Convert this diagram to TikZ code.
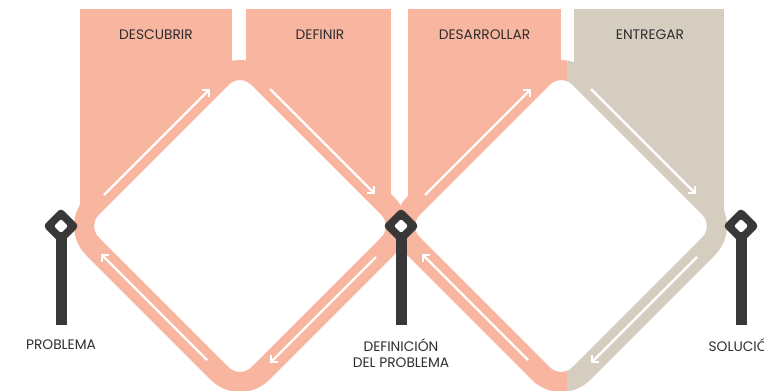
\documentclass[tikz,border=0pt]{standalone}
\usepackage{fontspec}
\setmainfont{Poppins}
\usetikzlibrary{arrows.meta}
\definecolor{salmon}{HTML}{F8B5A0}
\definecolor{beige}{HTML}{D6CDC1}
\definecolor{pinc}{HTML}{383838}
\definecolor{txtc}{HTML}{2E2E2E}
% rounded diamond: centre x, centre y, half diagonal, corner radius
\newcommand\rdm[4]{[rounded corners=#4pt] ({#1-#3/2},{#2-#3/2}) -- (#1,{#2-#3}) -- ({#1+#3},#2) -- (#1,{#2+#3}) -- ({#1-#3},#2) -- cycle}
\begin{document}
\begin{tikzpicture}[x=1pt,y=-1pt,
  lbl/.style={font=\fontsize{13.8}{16}\selectfont, text=txtc, inner sep=0pt},
  flow/.style={draw=white, line width=2.2pt, -{Straight Barb[length=5pt,width=10pt]}}]
\useasboundingbox (0,0) rectangle (764,391);
\clip (0,0) rectangle (764,391);
% column panels
\fill[salmon] (80,8.5) rectangle (232,226);
\fill[salmon] (246,8.5) rectangle (391,226);
\fill[salmon] (408,8.5) rectangle (561,226);
\fill[beige] (574,8.5) rectangle (724,226);
% inner white areas
\fill[white] \rdm{240}{226}{152.5}{16};
\fill[white] \rdm{561}{226}{152.5}{16};
% bands
\fill[salmon, even odd rule] \rdm{240}{226}{183}{41} \rdm{240}{226}{152.5}{16};
\begin{scope}
  \clip (300,0) rectangle (567,400);
  \fill[salmon, even odd rule] \rdm{561}{226}{183}{41} \rdm{561}{226}{152.5}{16};
\end{scope}
\begin{scope}
  \clip (567,0) rectangle (770,400);
  \fill[beige, even odd rule] \rdm{561}{226}{183}{41} \rdm{561}{226}{152.5}{16};
\end{scope}
% flow arrows
\foreach \cx in {240,561}{
  \draw[flow] ({\cx-167+31},{226-31}) -- ({\cx-167+137},{226-137});
  \draw[flow] ({\cx+30},{59+30}) -- ({\cx+135},{59+135});
  \draw[flow] ({\cx+167-31},{226+31}) -- ({\cx+167-137},{226+137});
  \draw[flow] ({\cx-33},{393-33}) -- ({\cx-139},{393-139});
}
% markers
\foreach \mx in {61,401,741}{
  \fill[pinc] ({\mx-5.5},236) rectangle ({\mx+5.5},325);
  \fill[pinc] \rdm{\mx}{226}{18}{4};
  \fill[white] \rdm{\mx}{226}{7}{2};
}
% labels
\node[lbl] (descubrir) at (156,35) {DESCUBRIR};
\node[lbl] (definir) at (320,35) {DEFINIR};
\node[lbl] (desarrollar) at (484.5,35) {DESARROLLAR};
\node[lbl] (entregar) at (650,35) {ENTREGAR};
\node[lbl] (problema) at (61,345) {PROBLEMA};
\node[lbl] (definicion) at (401,345) {DEFINICIÓN};
\node[lbl] (delproblema) at (401,363) {DEL PROBLEMA};
\node[lbl] (solucion) at (743,345) {SOLUCIÓN};
\end{tikzpicture}
\end{document}
